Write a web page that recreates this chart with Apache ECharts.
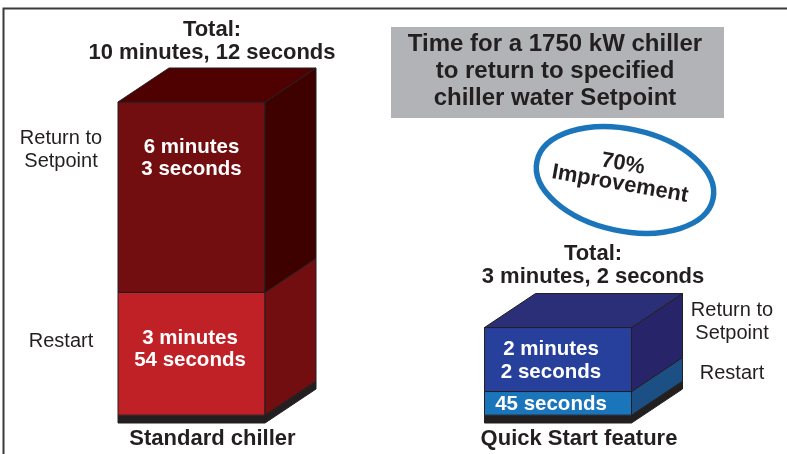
<!DOCTYPE html>
<html>
<head>
<meta charset="utf-8">
<style>
    html, body { margin: 0; padding: 0; background: #fff; }
    #main { width: 787px; height: 454px; }
</style>
<script src="https://cdn.jsdelivr.net/npm/echarts@6/dist/echarts.min.js"></script>
</head>
<body>
<div id="main"></div>
<script>
// 数值单位：秒
var categories = ['Standard chiller', 'Quick Start feature'];
var baseSeconds = [15, 15];        // 黑色底座，图上没标，由 Total 减出来
var restartSeconds = [234, 45];
var returnSeconds = [363, 122];
var totalLabels = ['Total:\n10 minutes, 12 seconds', 'Total:\n3 minutes, 2 seconds'];
var restartLabels = ['3 minutes\n54 seconds', '45 seconds'];
var returnLabels = ['6 minutes\n3 seconds', '2 minutes\n2 seconds'];

var INK = '#231f20';
var FONT = '"Liberation Sans", Arial, sans-serif';
var FRONT_W = 147;
var DEPTH_X = 51;
var DEPTH_Y = 34;

var palette = [
    { base: INK, baseSide: INK, restart: '#c02126', restartSide: '#720d10', ret: '#720d10', retSide: '#3f0000', top: '#4f0000' },
    { base: INK, baseSide: INK, restart: '#1b75bb', restartSide: '#1c5085', ret: '#27409b', retSide: '#28246a', top: '#2b2f78' }
];

function stackData(from, values) {
    return values.map(function (v, i) {
        var start = 0;
        for (var k = 0; k < from.length; k++) {
            start += from[k][i];
        }
        return [i, start, start + v];
    });
}

// 一段立方体：正面 + 右侧面，最上面一段再加顶面
function segment(name, withTop) {
    return function (params, api) {
        var c = palette[api.value(0)];
        var hi = api.coord([api.value(0), api.value(2)]);
        var lo = api.coord([api.value(0), api.value(1)]);
        var x0 = hi[0] - 99;
        var x1 = x0 + FRONT_W;
        var line = { stroke: INK, lineWidth: 1 };
        var children = [
            {
                type: 'polygon',
                shape: { points: [[x0, hi[1]], [x1, hi[1]], [x1, lo[1]], [x0, lo[1]]] },
                style: Object.assign({ fill: c[name] }, line)
            },
            {
                type: 'polygon',
                shape: { points: [[x1, hi[1]], [x1 + DEPTH_X, hi[1] - DEPTH_Y], [x1 + DEPTH_X, lo[1] - DEPTH_Y], [x1, lo[1]]] },
                style: Object.assign({ fill: c[name + 'Side'] }, line)
            }
        ];
        if (withTop) {
            children.push({
                type: 'polygon',
                shape: { points: [[x0, hi[1]], [x0 + DEPTH_X, hi[1] - DEPTH_Y], [x1 + DEPTH_X, hi[1] - DEPTH_Y], [x1, hi[1]]] },
                style: Object.assign({ fill: c.top }, line)
            });
        }
        return { type: 'group', children: children };
    };
}

function label(text, x, y, opt) {
    opt = opt || {};
    return {
        type: 'text',
        x: x,
        y: y,
        rotation: opt.rotation || 0,
        z: 10,
        style: {
            text: text,
            fill: opt.fill || INK,
            font: (opt.weight || 'bold') + ' ' + (opt.size || 22) + 'px ' + FONT,
            align: 'center',
            verticalAlign: 'middle',
            lineHeight: opt.lineHeight || 23
        }
    };
}

var chart = echarts.init(document.getElementById('main'), null, { renderer: 'canvas' });

var option = {
    animation: false,
    backgroundColor: '#fff',
    grid: { left: 33.75, width: 733, top: 102, bottom: 31 },
    xAxis: {
        type: 'category',
        data: categories,
        axisLine: { show: false },
        axisTick: { show: false },
        axisLabel: {
            margin: 5,
            color: INK,
            fontFamily: FONT,
            fontWeight: 'bold',
            fontSize: 22,
            padding: [0, 9, 0, 0]
        }
    },
    yAxis: { type: 'value', min: 0, max: 612, show: false },
    series: [
        {
            type: 'custom',
            coordinateSystem: 'cartesian2d',
            data: stackData([], baseSeconds),
            renderItem: segment('base', false)
        },
        {
            type: 'custom',
            coordinateSystem: 'cartesian2d',
            data: stackData([baseSeconds], restartSeconds),
            renderItem: segment('restart', false)
        },
        {
            type: 'custom',
            coordinateSystem: 'cartesian2d',
            data: stackData([baseSeconds, restartSeconds], returnSeconds),
            renderItem: segment('ret', true)
        }
    ],
    graphic: [
        // 外框
        {
            type: 'polyline',
            shape: { points: [[3.5, 454], [3.5, 8.5], [787, 8.5]] },
            style: { stroke: '#3a3a3a', lineWidth: 2, fill: null }
        },
        // 标题块
        {
            type: 'rect',
            shape: { x: 391, y: 27, width: 333, height: 91 },
            style: { fill: '#b1b3b6' }
        },
        label('Time for a 1750 kW chiller\nto return to specified\nchiller water Setpoint', 555, 71, { size: 24, lineHeight: 27 }),
        // 70% 椭圆
        {
            type: 'ellipse',
            x: 625,
            y: 180,
            rotation: -12 * Math.PI / 180,
            shape: { cx: 0, cy: 0, rx: 90, ry: 51 },
            style: { fill: '#fff', stroke: '#1b75bb', lineWidth: 5.5 }
        },
        label('70%', 623, 164, { rotation: -10 * Math.PI / 180 }),
        label('Improvement', 620, 184, { rotation: -10 * Math.PI / 180 }),
        // 合计
        label(totalLabels[0], 212, 41),
        label(totalLabels[1], 593, 265),
        // 柱内文字
        label(returnLabels[0], 191.5, 158, { fill: '#fff', size: 20.5, lineHeight: 22 }),
        label(restartLabels[0], 190, 349, { fill: '#fff', size: 20.5, lineHeight: 22 }),
        label(returnLabels[1], 551, 361, { fill: '#fff', size: 20.5, lineHeight: 23 }),
        label(restartLabels[1], 551, 404, { fill: '#fff', size: 20.5 }),
        // 两侧说明
        label('Return to\nSetpoint', 61, 150, { weight: 'normal', size: 20 }),
        label('Restart', 61, 341, { weight: 'normal', size: 20 }),
        label('Return to\nSetpoint', 732, 322, { weight: 'normal', size: 20 }),
        label('Restart', 732, 373, { weight: 'normal', size: 20 })
    ]
};

chart.setOption(option);
</script>
</body>
</html>
